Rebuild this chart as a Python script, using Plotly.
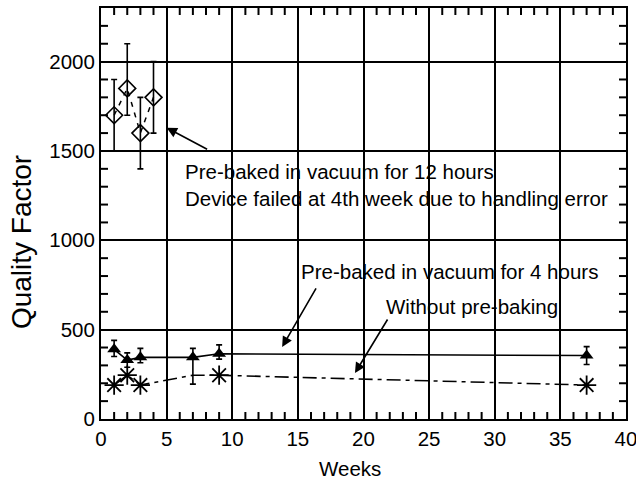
import plotly.graph_objects as go

# 12 hours pre-baked (diamonds)
w12 = [1, 2, 3, 4]
q12 = [1700, 1850, 1600, 1800]
q12_up = [200, 250, 200, 200]
q12_dn = [200, 150, 200, 200]

# 4 hours pre-baked (triangles)
w4 = [1, 2, 3, 7, 9, 37]
q4 = [390, 330, 345, 345, 365, 355]
q4_up = [50, 40, 50, 50, 50, 50]
q4_dn = [40, 40, 30, 150, 30, 50]

# without pre-baking (asterisks)
w0 = [1, 2, 3, 9, 37]
q0 = [190, 245, 190, 245, 190]
w0_line = [1, 2, 3, 7, 9, 37]
q0_line = [190, 245, 190, 245, 245, 190]

X_RANGE = [0, 40]
Y_RANGE = [0, 2300]
X_MAJOR, X_MINOR = 5, 1
Y_MAJOR, Y_MINOR = 500, 100

FONT = "Liberation Sans, Arial, sans-serif"
TXT = 20.5

fig = go.Figure()

fig.add_trace(go.Scatter(
    x=w12, y=q12, mode="lines+markers",
    line=dict(color="black", width=1.5, dash="5px,6px"),
    marker=dict(symbol="diamond-open", size=13, color="black", line=dict(width=1.6)),
    error_y=dict(type="data", symmetric=False, array=q12_up, arrayminus=q12_dn,
                 color="black", thickness=1.6, width=3),
))

fig.add_trace(go.Scatter(
    x=w4, y=q4, mode="lines+markers",
    line=dict(color="black", width=1.6),
    marker=dict(symbol="triangle-up", size=12, color="black"),
    error_y=dict(type="data", symmetric=False, array=q4_up, arrayminus=q4_dn,
                 color="black", thickness=1.6, width=3),
))

fig.add_trace(go.Scatter(
    x=w0_line, y=q0_line, mode="lines",
    line=dict(color="black", width=1.6, dash="14px,5px,4px,5px"),
))

fig.add_trace(go.Scatter(
    x=w0, y=q0, mode="markers",
    marker=dict(symbol="asterisk-open", size=16, color="black", line=dict(width=1.8, color="black")),
))

# minor tick marks along the frame (derived from the axis ranges; half clipped by the plot area)
xm = [v for v in range(X_RANGE[0] + X_MINOR, X_RANGE[1], X_MINOR) if v % X_MAJOR]
ym = [v for v in range(Y_RANGE[0] + Y_MINOR, Y_RANGE[1], Y_MINOR) if v % Y_MAJOR]
fig.add_trace(go.Scatter(
    x=xm + xm, y=[Y_RANGE[0]] * len(xm) + [Y_RANGE[1]] * len(xm), mode="markers",
    marker=dict(symbol="line-ns", size=10, line=dict(width=2, color="black")),
    cliponaxis=True, hoverinfo="skip",
))
fig.add_trace(go.Scatter(
    x=[X_RANGE[0]] * len(ym) + [X_RANGE[1]] * len(ym), y=ym + ym, mode="markers",
    marker=dict(symbol="line-ew", size=10, line=dict(width=2, color="black")),
    cliponaxis=True, hoverinfo="skip",
))

ann = []
ann.append(dict(x=6.25, y=1310, xref="x", yref="y", xanchor="left", yanchor="middle",
                text="Pre-baked in vacuum for 12 hours<br>Device failed at 4th week due to handling error",
                showarrow=False, align="left", font=dict(family=FONT, size=TXT, color="black")))
ann.append(dict(x=15.05, y=823, xref="x", yref="y", xanchor="left", yanchor="middle",
                text="Pre-baked in vacuum for 4 hours", showarrow=False,
                font=dict(family=FONT, size=TXT, color="black")))
ann.append(dict(x=21.55, y=632, xref="x", yref="y", xanchor="left", yanchor="middle",
                text="Without pre-baking", showarrow=False,
                font=dict(family=FONT, size=TXT, color="black")))
# axis titles
ann.append(dict(x=0, xref="paper", xshift=-80, y=990, yref="y", textangle=-90,
                xanchor="center", yanchor="middle", text="Quality Factor", showarrow=False,
                font=dict(family=FONT, size=28, color="black")))
ann.append(dict(x=18.97, xref="x", y=0, yref="paper", yshift=-49,
                xanchor="center", yanchor="middle", text="Weeks", showarrow=False,
                font=dict(family=FONT, size=TXT, color="black")))
# arrows
for (hx, hy, tx, ty) in [(5.0, 1630, 8.2, 1505), (13.8, 403, 16.45, 739), (19.35, 257, 21.9, 565)]:
    ann.append(dict(x=hx, y=hy, ax=tx, ay=ty, xref="x", yref="y", axref="x", ayref="y",
                    text="", showarrow=True, arrowhead=2, arrowsize=1.3, arrowwidth=1.6,
                    arrowcolor="black"))

fig.update_layout(
    width=636, height=483,
    margin=dict(l=101, r=10, t=8, b=64),
    plot_bgcolor="white", paper_bgcolor="white",
    showlegend=False,
    font=dict(family=FONT, size=TXT, color="black"),
    annotations=ann,
    xaxis=dict(
        range=X_RANGE, tickmode="linear", dtick=X_MAJOR, automargin=False,
        ticklabeloverflow="allow",
        showgrid=True, gridcolor="black", gridwidth=2,
        showline=True, linecolor="black", linewidth=2, mirror=True,
        ticks="", zeroline=False,
        tickfont=dict(family=FONT, size=TXT),
    ),
    yaxis=dict(
        range=Y_RANGE, tickmode="linear", dtick=Y_MAJOR, automargin=False,
        showgrid=True, gridcolor="black", gridwidth=2,
        showline=True, linecolor="black", linewidth=2, mirror=True,
        ticks="", zeroline=False,
        tickfont=dict(family=FONT, size=TXT),
    ),
)

fig.write_html("out.html")
